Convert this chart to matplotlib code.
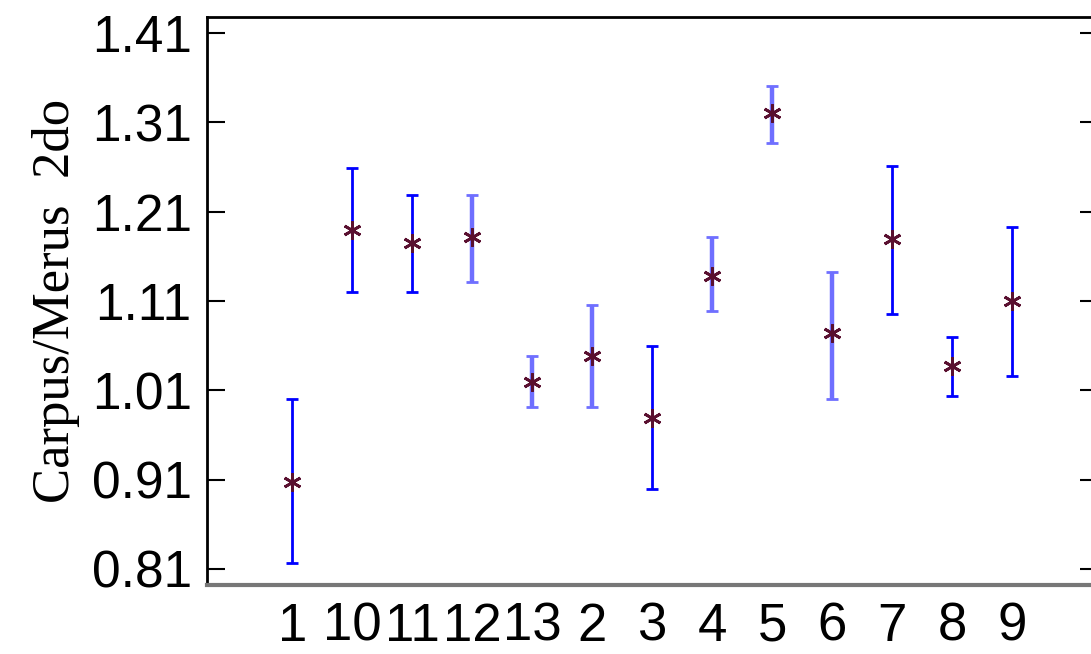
import numpy as np
import matplotlib.pyplot as plt

groups = ['1', '10', '11', '12', '13', '2', '3', '4', '5', '6', '7', '8', '9']
means = np.array([0.907, 1.189, 1.175, 1.182, 1.019, 1.048, 0.979,
                  1.138, 1.320, 1.074, 1.179, 1.037, 1.110])
upper = np.array([1.000, 1.259, 1.229, 1.229, 1.048, 1.106, 1.060,
                  1.182, 1.351, 1.142, 1.261, 1.070, 1.193])
lower = np.array([0.817, 1.120, 1.120, 1.131, 0.991, 0.991, 0.900,
                  1.099, 1.287, 1.000, 1.096, 1.004, 1.026])
yticks = [0.81, 0.91, 1.01, 1.11, 1.21, 1.31, 1.41]
# bars that look washed out in the original scan
faded = ['12', '13', '2', '4', '5', '6']

fig = plt.figure(figsize=(10.91, 6.54), dpi=100)
ax = fig.add_axes([207/1091, 1 - 585/654, (1098 - 207)/1091, (585 - 17)/654])

x = np.arange(len(groups))
for i, g in enumerate(groups):
    if g in faded:
        col, lw = '#6f6fff', 3.2
    else:
        col, lw = '#0000ff', 2.0
    ax.errorbar(x[i], means[i], yerr=[[means[i] - lower[i]], [upper[i] - means[i]]],
                fmt='none', ecolor=col, elinewidth=lw, capsize=4, capthick=2)

ax.plot(x, means, ls='none', marker=(6, 2, 0), ms=13, mec='#5a1030', mew=2)

ax.set_xlim(-1.42, 13.43)
ax.set_ylim(0.792, 1.428)
ax.set_xticks(x)
ax.set_xticklabels(groups)
ax.set_yticks(yticks)
ax.set_yticklabels(['%.2f' % v for v in yticks])

ax.tick_params(axis='y', direction='in', length=13, width=1.5, right=True,
               labelsize=37, pad=11)
ax.tick_params(axis='x', length=0, labelsize=38, pad=12)
for lab in ax.get_xticklabels() + ax.get_yticklabels():
    lab.set_family('Liberation Sans')

for s in ['top', 'left', 'right']:
    ax.spines[s].set_linewidth(2)
ax.spines['bottom'].set_color('#777777')
ax.spines['bottom'].set_linewidth(3)

ax.set_ylabel('Carpus/Merus  2do', family='Liberation Serif', fontsize=38, labelpad=8)

fig.savefig('out.png', dpi=100)
